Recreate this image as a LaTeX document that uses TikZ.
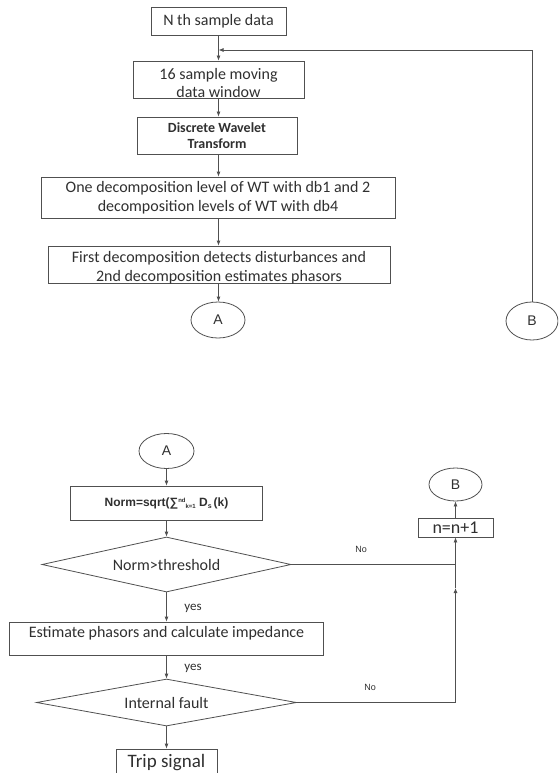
\documentclass[tikz,border=0pt]{standalone}
\usepackage{fontspec}
\setmainfont{Carlito}
\newfontfamily\arialf{Liberation Sans}
\usetikzlibrary{shapes.geometric,arrows.meta}
\definecolor{lc}{HTML}{505050}
\definecolor{tc}{HTML}{303030}
\begin{document}
\begin{tikzpicture}[x=1pt,y=-1pt,
  line/.style={draw=lc, line width=0.8pt},
  arr/.style={line, -{Latex[length=5pt,width=4pt]}},
  box/.style={draw=lc, line width=0.8pt, rectangle, inner sep=0pt, align=center, text=tc, font=\fontsize{16}{18.5}\selectfont},
  txt/.style={inner sep=0pt, align=center, text=tc, font=\fontsize{16}{18.5}\selectfont},
  dia/.style={draw=lc, line width=0.8pt, diamond, shape aspect=4.5, inner sep=0pt, text=tc, font=\fontsize{16}{18}\selectfont},
  circ/.style={draw=lc, line width=0.8pt, ellipse, inner sep=0pt, text=tc, font=\arialf\fontsize{14}{16}\selectfont},
  yeslab/.style={inner sep=0pt, text=tc, font=\fontsize{13}{15}\selectfont},
  nolab/.style={inner sep=0pt, text=tc, font=\arialf\fontsize{9}{11}\selectfont}]
\clip (0,0) rectangle (558,773);
\fill[white] (0,0) rectangle (558,773);
% top flow
\node[box, minimum width=135, minimum height=28] (nth) at (218.5,21) {N th sample data};
\node[box, minimum width=171, minimum height=37] (win) at (218.5,79.5) {};
\node[txt] (wintext) at (218.5,83) {16 sample moving\\data window};
\node[box, minimum width=160, minimum height=37, font=\fontsize{14}{16}\selectfont\bfseries] (dwt) at (217,135.5) {Discrete Wavelet\\Transform};
\node[box, minimum width=354, minimum height=41] (one) at (218,197.5) {One decomposition level of WT with db1 and 2\\decomposition levels of WT with db4};
\node[box, minimum width=342, minimum height=37] (first) at (219,264.5) {};
\node[txt] (firsttext) at (219,267.5) {First decomposition detects disturbances and\\2nd decomposition estimates phasors};
\node[circ, minimum width=54, minimum height=36] (A1) at (218,320) {A};
\node[circ, minimum width=52, minimum height=38] (B1) at (532,321) {B};
\coordinate (join) at (218.5,50);
\draw[arr] (nth.south) -- (win.north);
\draw[arr] (win.south) -- (dwt.north -| win.south);
\draw[arr] (dwt.south -| win.south) -- (one.north -| win.south);
\draw[arr] (one.south -| win.south) -- (first.north -| win.south);
\draw[arr] (first.south -| win.south) -- (A1.north -| win.south);
\draw[arr] (B1.north) |- (join);
% bottom flow
\node[circ, minimum width=55, minimum height=35] (A2) at (166.5,451) {A};
\node[box, minimum width=192, minimum height=34, font=\arialf\bfseries\fontsize{12}{14}\selectfont] (norm) at (166.5,503) {Norm=sqrt(∑\raisebox{4pt}{\fontsize{6}{7}\selectfont nd}\raisebox{-2pt}{\fontsize{6}{7}\selectfont k=1} D\raisebox{-2pt}{\fontsize{7}{8}\selectfont s}\,(k)};
\node[dia, minimum width=249, minimum height=55] (d1) at (166.5,564.5) {Norm>threshold};
\node[box, minimum width=314, minimum height=33] (est) at (166.5,638.5) {};
\node[txt] (esttext) at (166.5,633.5) {Estimate phasors and calculate impedance};
\node[dia, minimum width=260, minimum height=47] (d2) at (166.5,702.5) {Internal fault};
\node[box, minimum width=101, minimum height=42] (trip) at (166.5,770) {};
\node[txt, font=\fontsize{19}{22}\selectfont] (triptext) at (166.5,763) {Trip signal};
\node[circ, minimum width=53, minimum height=33] (B2) at (455.5,484.5) {B};
\node[box, minimum width=75, minimum height=19, font=\fontsize{18}{20}\selectfont] (nbox) at (455.5,527.5) {n=n+1};
\node[yeslab] (yes1) at (193,608) {yes};
\node[yeslab] (yes2) at (193,668) {yes};
\node[nolab] (no1) at (361,549) {No};
\node[nolab] (no2) at (370,687) {No};
\coordinate (j1) at (455.5,564.5);
\coordinate (j2) at (455.5,702.5);
\coordinate (mid) at (455.5,588);
\draw[arr] (A2.south) -- (norm.north);
\draw[arr] (norm.south) -- (d1.north);
\draw[arr] (d1.south) -- (est.north);
\draw[arr] (est.south) -- (d2.north);
\draw[arr] (d2.south) -- (trip.north);
\draw[line] (d1.east) -- (j1);
\draw[arr] (d2.east) -- (j2) -- (mid);
\draw[line] (mid) -- (j1);
\draw[arr] (j1) -- (nbox.south);
\draw[arr] (nbox.north) -- (B2.south);
\end{tikzpicture}
\end{document}
